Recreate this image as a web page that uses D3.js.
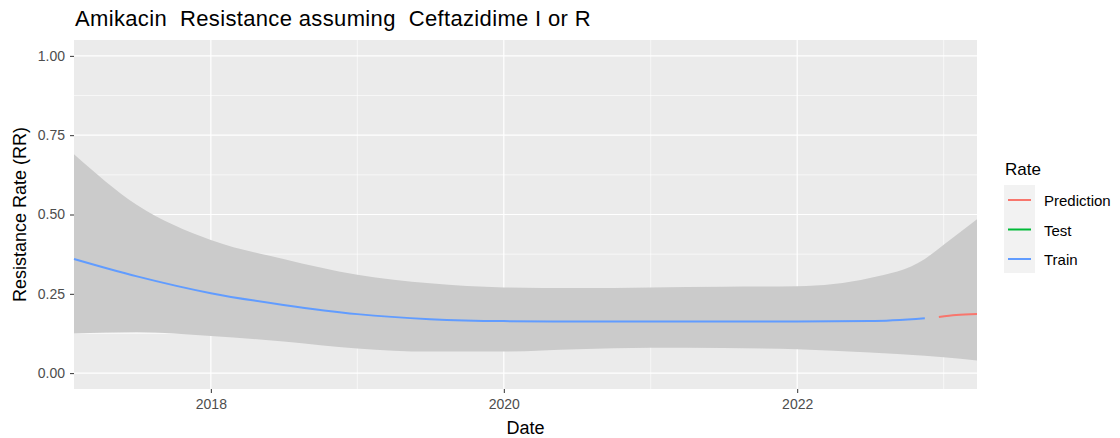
<!DOCTYPE html>
<html><head><meta charset="utf-8">
<script src="https://cdn.jsdelivr.net/npm/d3@7"></script>
<style>body{margin:0;background:#fff;}svg{display:block;font-family:"Liberation Sans",Arial,sans-serif;}</style>
</head><body><svg id="c" width="1120" height="438"></svg>
<script>
const title = "Amikacin  Resistance assuming  Ceftazidime I or R";
const xTicks = ["2018-01-01","2020-01-01","2022-01-01"];
const xMinor = ["2019-01-01","2021-01-01","2023-01-01"];
const yTicks = [0, 0.25, 0.5, 0.75, 1.0];
const yMinor = [0.125, 0.375, 0.625, 0.875];
const xDomain = ["2017-01-25","2023-03-25"];
const ribbonDates = ["2017-01-25","2017-07-01","2018-01-01","2018-07-01","2019-01-01","2019-07-01","2020-01-01","2020-07-01","2021-01-01","2021-07-01","2022-01-01","2022-07-01","2022-11-15","2023-01-01","2023-03-25"];
const ribbonUpper = [0.69,0.53,0.42,0.36,0.31,0.283,0.27,0.268,0.27,0.272,0.274,0.30,0.36,0.405,0.485];
const ribbonLower = [0.125,0.13,0.117,0.10,0.078,0.068,0.068,0.075,0.08,0.079,0.075,0.065,0.055,0.05,0.04];
const trainDates = ["2017-01-25","2017-07-01","2018-01-01","2018-07-01","2019-01-01","2019-07-01","2020-01-01","2020-07-01","2021-01-01","2021-07-01","2022-01-01","2022-07-01","2022-11-15"];
const trainValues = [0.36,0.305,0.252,0.215,0.186,0.170,0.164,0.163,0.163,0.163,0.163,0.164,0.173];
const predDates = ["2022-12-20","2023-02-01","2023-03-25"];
const predValues = [0.177,0.183,0.186];
const testDates = [];
const testValues = [];
const legendLabels = ["Prediction","Test","Train"];
const legendColors = ["#F8766D","#00BA38","#619CFF"];

const P = d3.timeParse("%Y-%m-%d");
const svg = d3.select("#c");
const L = 74, R = 977, T = 40, B = 389;
const x = d3.scaleTime().domain(xDomain.map(P)).range([L, R]);
const y = d3.scaleLinear().domain([-0.05, 1.05]).range([B, T]);

svg.append("rect").attr("x",L).attr("y",T).attr("width",R-L).attr("height",B-T).attr("fill","#ebebeb");
const g = svg.append("g");
yMinor.forEach(v=>g.append("line").attr("x1",L).attr("x2",R).attr("y1",y(v)).attr("y2",y(v)).attr("stroke","#fff").attr("stroke-width",0.6));
xMinor.map(P).forEach(d=>g.append("line").attr("y1",T).attr("y2",B).attr("x1",x(d)).attr("x2",x(d)).attr("stroke","#fff").attr("stroke-width",0.6));
yTicks.forEach(v=>g.append("line").attr("x1",L).attr("x2",R).attr("y1",y(v)).attr("y2",y(v)).attr("stroke","#fff").attr("stroke-width",1.2));
xTicks.map(P).forEach(d=>g.append("line").attr("y1",T).attr("y2",B).attr("x1",x(d)).attr("x2",x(d)).attr("stroke","#fff").attr("stroke-width",1.2));

const rib = ribbonDates.map((d,i)=>({d:P(d),u:ribbonUpper[i],l:ribbonLower[i]}));
svg.append("path").datum(rib).attr("fill","#cbcbcb")
  .attr("d", d3.area().curve(d3.curveMonotoneX).x(p=>x(p.d)).y0(p=>y(p.l)).y1(p=>y(p.u)));

const line = d3.line().curve(d3.curveMonotoneX).x(p=>x(p.d)).y(p=>y(p.v));
const series = [[trainDates,trainValues,legendColors[2]],[testDates,testValues,legendColors[1]],[predDates,predValues,legendColors[0]]];
series.forEach(([ds,vs,c])=>{
  if(!ds.length) return;
  svg.append("path").datum(ds.map((d,i)=>({d:P(d),v:vs[i]}))).attr("fill","none").attr("stroke",c).attr("stroke-width",2).attr("d",line);
});

// axes
const xa = svg.append("g").attr("transform",`translate(0,${B})`)
  .call(d3.axisBottom(x).tickValues(xTicks.map(P)).tickSize(4).tickPadding(6).tickFormat(d3.timeFormat("%Y")));
const ya = svg.append("g").attr("transform",`translate(${L},0)`)
  .call(d3.axisLeft(y).tickValues(yTicks).tickSize(4).tickPadding(5).tickFormat(d3.format(".2f")));
[xa,ya].forEach(a=>{
  a.select(".domain").remove();
  a.selectAll(".tick line").attr("stroke","#333");
  a.selectAll(".tick text").attr("fill","#4d4d4d").style("font-size","14px").style("font-family","Liberation Sans, Arial, sans-serif");
});

svg.append("text").attr("x",75).attr("y",26).style("white-space","pre").style("font-size","22px").style("letter-spacing","0.35px").attr("fill","#000").text(title);
svg.append("text").attr("x",(L+R)/2).attr("y",434).attr("text-anchor","middle").style("font-size","18px").text("Date");
svg.append("text").attr("transform",`translate(26,${(T+B)/2}) rotate(-90)`).attr("text-anchor","middle").style("font-size","18px").text("Resistance Rate (RR)");

// legend
svg.append("text").attr("x",1005).attr("y",175).style("font-size","17px").text("Rate");
svg.append("rect").attr("x",1004).attr("y",185).attr("width",31).attr("height",88).attr("fill","#f2f2f2");
legendLabels.forEach((t,i)=>{
  const yy = 200 + i*29.5;
  svg.append("line").attr("x1",1008).attr("x2",1031).attr("y1",yy).attr("y2",yy).attr("stroke",legendColors[i]).attr("stroke-width",2);
  svg.append("text").attr("x",1044).attr("y",yy+6).style("font-size","15px").text(t);
});
</script></body></html>
